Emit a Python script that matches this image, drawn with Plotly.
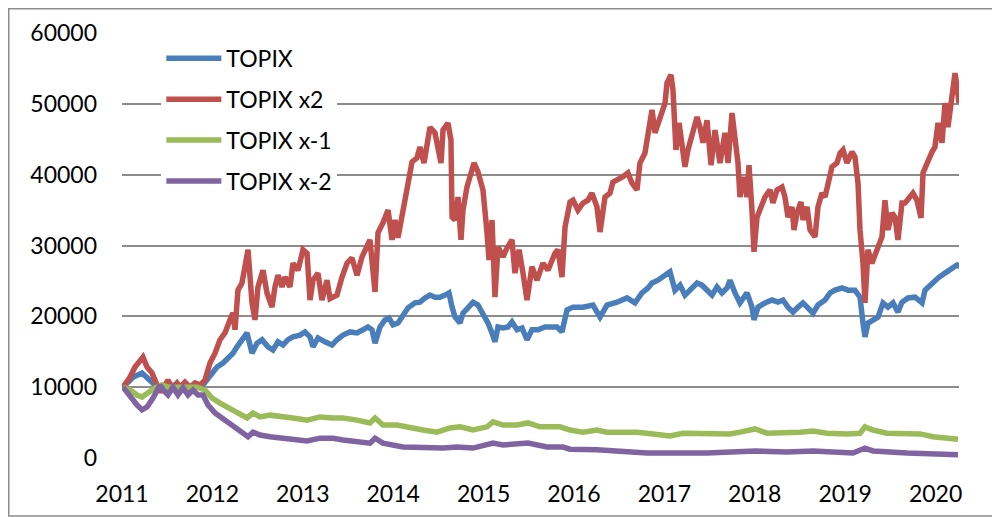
import plotly.graph_objects as go

# Decimal-year offsets (from 2011) and values
topix_t = [0.011,0.122,0.221,0.288,0.365,0.476,0.586,0.697,0.808,0.896,0.973,1.051,1.117,1.195,1.228,1.272,1.327,1.383,1.438,1.493,1.549,1.615,1.670,1.726,1.781,1.836,1.892,1.969,2.024,2.080,2.113,2.168,2.246,2.323,2.378,2.445,2.522,2.600,2.666,2.721,2.766,2.799,2.854,2.909,2.954,2.998,3.053,3.108,3.164,3.241,3.296,3.352,3.407,3.462,3.518,3.573,3.617,3.651,3.684,3.739,3.772,3.827,3.883,3.938,3.993,4.049,4.093,4.126,4.159,4.215,4.270,4.314,4.370,4.425,4.480,4.535,4.602,4.679,4.812,4.867,4.923,4.989,5.100,5.210,5.288,5.365,5.476,5.586,5.675,5.752,5.819,5.863,5.929,6.007,6.062,6.117,6.173,6.228,6.283,6.361,6.416,6.471,6.527,6.582,6.637,6.693,6.726,6.781,6.836,6.914,6.969,6.991,7.036,7.113,7.190,7.257,7.312,7.367,7.423,7.478,7.533,7.588,7.644,7.699,7.777,7.832,7.887,7.965,8.031,8.108,8.164,8.197,8.219,8.252,8.308,8.363,8.418,8.473,8.529,8.584,8.628,8.695,8.772,8.850,8.883,8.960,9.027,9.104,9.159,9.237,9.270]
topix_v = [10000,11400,12000,11300,10300,9800,9700,9800,9900,10300,11700,12850,13400,14250,14800,15700,16700,17650,14800,16200,16700,15700,15250,16400,15950,16700,17100,17350,17800,17100,15700,16950,16400,15950,16700,17350,17800,17650,18100,18500,18100,16200,18500,19500,19750,18800,19050,20200,21200,21900,22000,22600,23000,22700,22700,23000,23300,21300,19900,19050,20450,21200,22000,21600,20450,19050,17650,16400,18500,18350,18500,19200,18100,18350,16700,18100,18100,18500,18500,17800,20900,21300,21300,21600,19900,21600,22000,22600,21900,23300,24000,24700,25100,25800,26300,23700,24400,23000,23700,24700,24400,23700,23000,24150,23300,24000,25100,23300,21900,23300,21300,19500,21300,21900,22300,22000,22300,21300,20600,21300,21900,21200,20450,21600,22300,23300,23700,24000,23700,23700,22700,19050,17100,19050,19500,19900,21900,21300,21900,20600,22000,22600,22700,21900,23700,24700,25400,26100,26500,27250,27000]

x2_t = [0.011,0.088,0.144,0.199,0.232,0.277,0.332,0.365,0.420,0.476,0.509,0.553,0.608,0.642,0.697,0.752,0.808,0.863,0.918,0.973,1.029,1.084,1.139,1.195,1.228,1.250,1.283,1.327,1.361,1.394,1.438,1.471,1.504,1.560,1.604,1.659,1.692,1.726,1.770,1.803,1.858,1.892,1.947,2.002,2.047,2.080,2.113,2.168,2.212,2.268,2.301,2.378,2.434,2.489,2.544,2.600,2.655,2.710,2.743,2.799,2.832,2.887,2.943,2.987,3.020,3.053,3.097,3.131,3.164,3.208,3.263,3.296,3.341,3.374,3.407,3.462,3.496,3.529,3.551,3.606,3.639,3.651,3.684,3.717,3.750,3.772,3.816,3.850,3.894,3.938,3.993,4.038,4.060,4.093,4.126,4.159,4.215,4.259,4.314,4.347,4.392,4.436,4.480,4.535,4.591,4.657,4.712,4.790,4.823,4.867,4.901,4.956,4.989,5.044,5.100,5.155,5.199,5.254,5.288,5.343,5.398,5.431,5.487,5.542,5.597,5.642,5.697,5.730,5.785,5.819,5.863,5.896,5.951,6.007,6.029,6.073,6.095,6.128,6.162,6.206,6.228,6.261,6.316,6.361,6.394,6.427,6.471,6.516,6.560,6.615,6.670,6.704,6.748,6.781,6.814,6.836,6.870,6.914,6.936,6.969,6.991,7.025,7.058,7.113,7.168,7.201,7.246,7.301,7.334,7.367,7.412,7.434,7.467,7.511,7.533,7.578,7.611,7.666,7.699,7.743,7.777,7.810,7.854,7.909,7.943,7.976,8.020,8.075,8.108,8.142,8.164,8.197,8.219,8.252,8.296,8.352,8.407,8.440,8.473,8.518,8.551,8.584,8.628,8.662,8.706,8.750,8.794,8.839,8.861,8.905,8.960,8.993,9.027,9.071,9.104,9.137,9.182,9.215,9.237,9.259]
x2_v = [10000,11400,12850,13800,14250,12850,12000,11000,9300,10300,11000,9900,10600,10000,10700,10000,10600,10300,11000,13400,14800,16700,17650,19500,20500,18100,23700,24700,27000,29400,21900,19500,24150,26500,23300,21300,24150,25800,24150,25550,24150,27500,26500,29400,28900,22300,25100,26100,22300,25100,22500,23000,25550,27500,28250,25800,28400,29800,30800,23450,31800,33200,35000,30800,33600,31100,34000,36400,38800,41800,42350,43900,41650,44500,46700,45900,43500,41650,46300,47300,44900,34000,33600,36850,30800,35000,38250,39700,41650,40400,37850,31800,27950,33600,22700,29800,28400,29650,30800,26100,29400,26100,22300,27000,25100,27500,26500,28900,29400,25550,32600,36150,36400,35000,36000,36400,37400,35450,31900,36850,37400,38950,39250,39700,40250,38800,37850,41650,43050,45900,49150,45900,48150,50100,52950,54100,51950,43500,47300,43050,41100,43500,46300,48150,46700,44500,47700,41350,46300,41650,45900,41650,48700,45300,41650,36850,39700,36850,41350,35000,29100,34000,35000,36850,37850,36000,37850,38250,36850,34000,35450,32200,34600,36150,33600,35450,32200,31200,35450,37400,36850,38800,41100,41650,43050,43500,41650,43200,42500,38800,32200,27500,21900,29400,27500,29400,31200,36400,32200,34600,34000,30800,36000,36000,36850,37400,36400,33900,40250,41650,43200,43900,47300,44500,50100,46700,50550,54350,52400,50100]

xm1_t = [0.011,0.088,0.166,0.221,0.288,0.365,0.442,0.509,0.608,0.719,0.830,0.918,0.996,1.084,1.195,1.283,1.383,1.449,1.527,1.637,1.748,1.892,2.047,2.190,2.334,2.445,2.600,2.743,2.799,2.887,3.042,3.186,3.330,3.485,3.628,3.739,3.883,4.038,4.104,4.215,4.370,4.491,4.624,4.845,4.956,5.100,5.254,5.365,5.542,5.697,5.874,6.062,6.206,6.471,6.726,6.836,7.002,7.135,7.356,7.500,7.644,7.799,8.020,8.164,8.219,8.308,8.462,8.684,8.828,8.971,9.126,9.248]
xm1_v = [10000,9600,8900,8600,9200,9900,10300,10000,10000,10000,10000,9600,8450,7750,7050,6350,5650,6350,5800,6050,5800,5650,5350,5800,5650,5650,5350,4950,5650,4650,4650,4250,3950,3650,4250,4400,3950,4400,5100,4650,4650,4950,4400,4400,3950,3650,3950,3650,3650,3650,3400,3100,3500,3500,3400,3650,4100,3500,3500,3650,3800,3500,3400,3500,4400,3950,3500,3500,3400,3000,2800,2650]

xm2_t = [0.011,0.088,0.166,0.221,0.277,0.343,0.420,0.454,0.509,0.564,0.619,0.675,0.730,0.785,0.841,0.896,0.951,1.029,1.106,1.173,1.250,1.327,1.394,1.449,1.527,1.637,1.781,1.936,2.047,2.190,2.334,2.445,2.600,2.743,2.799,2.887,3.108,3.330,3.551,3.706,3.883,4.104,4.215,4.491,4.701,4.878,4.956,5.254,5.542,5.808,6.062,6.471,7.002,7.356,7.644,8.086,8.219,8.308,8.684,8.971,9.248]
xm2_v = [10000,8600,7500,6800,7200,8450,10300,9600,8900,10000,8900,9900,8900,9600,8900,8900,7500,6350,5650,4950,4400,3500,3000,3650,3250,3000,2800,2550,2400,2800,2800,2550,2250,2100,2800,2100,1550,1400,1400,1550,1400,2100,1850,2100,1550,1550,1250,1150,850,700,700,700,1000,850,1000,700,1400,1000,700,550,450]

start_year = 2011
years = list(range(2011, 2021))
year_labels = [str(y) for y in years]
y_ticks = [0, 10000, 20000, 30000, 40000, 50000, 60000]

series = [
    ("TOPIX", topix_t, topix_v, "#4A7EBB"),
    ("TOPIX x2", x2_t, x2_v, "#C0504D"),
    ("TOPIX x-1", xm1_t, xm1_v, "#9BBB59"),
    ("TOPIX x-2", xm2_t, xm2_v, "#8064A2"),
]

fig = go.Figure()
for i, (name, t, v, color) in enumerate(series):
    fig.add_trace(go.Scatter(
        x=[start_year + d for d in t], y=v, name=name, mode="lines",
        line=dict(color=color, width=5.5), legendgroup=f"g{i}",
    ))

FONT = "Lato, 'Open Sans', sans-serif"
fig.update_layout(
    width=1000, height=517,
    margin=dict(l=114, r=49, t=25, b=67, autoexpand=False),
    paper_bgcolor="white", plot_bgcolor="white",
    font=dict(family=FONT, size=23, color="black"),
    showlegend=True,
    legend=dict(
        x=0.047, y=0.991, xanchor="left", yanchor="top",
        bgcolor="white", borderwidth=0,
        font=dict(family=FONT, size=23, color="black"),
        tracegroupgap=8, itemwidth=55,
    ),
    xaxis=dict(
        range=[2011, 2020.259], tickmode="array", tickvals=years, ticktext=year_labels,
        showgrid=False, zeroline=False, showline=False, ticks="", automargin=False,
        ticklabelstandoff=20, tickfont=dict(size=23),
    ),
    yaxis=dict(
        range=[0, 60000], tickmode="array", tickvals=y_ticks,
        ticktext=[str(v) for v in y_ticks],
        showgrid=True, gridcolor="#8C8C8C", gridwidth=1.5, zeroline=False, showline=False,
        ticks="", automargin=False, ticklabelstandoff=24, tickfont=dict(size=23),
    ),
    shapes=[dict(type="rect", xref="paper", yref="paper",
                 x0=-0.1353, x1=1.0478, y0=-0.1365, y1=1.0571,
                 line=dict(color="#8C8C8C", width=1.5), fillcolor="rgba(0,0,0,0)", layer="below")],
)

fig.write_html("out.html")
